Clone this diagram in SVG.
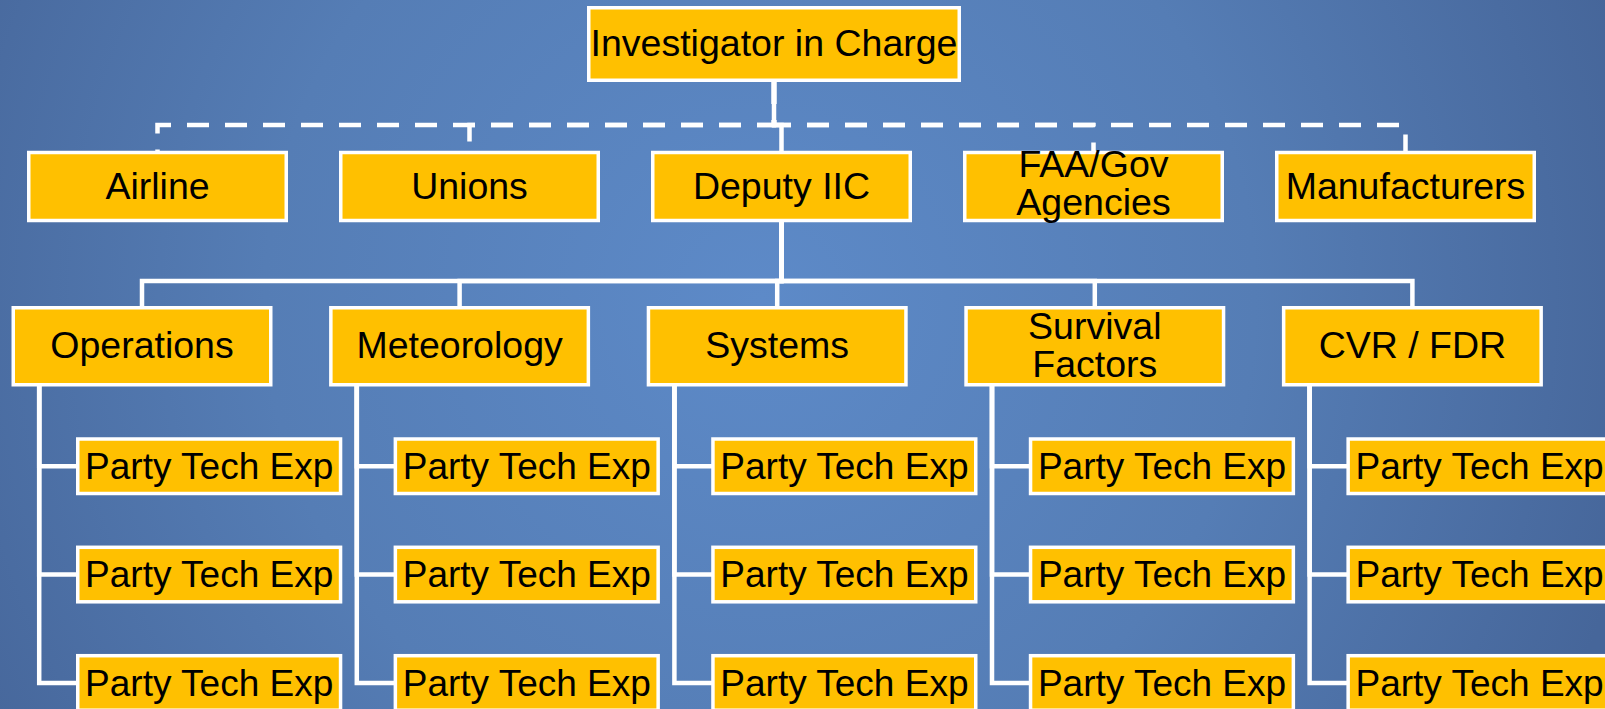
<svg xmlns="http://www.w3.org/2000/svg" width="1605" height="709" viewBox="0 0 1605 709">
  <defs>
    <radialGradient id="bg" cx="760" cy="300" r="900" gradientUnits="userSpaceOnUse">
      <stop offset="0" stop-color="#5D8AC8"/>
      <stop offset="0.55" stop-color="#557DB5"/>
      <stop offset="1" stop-color="#46669A"/>
    </radialGradient>
    <style>
      .box { fill: #FFC000; stroke: #FFFFFF; stroke-width: 3.5; }
      .lbl { font-family: "Liberation Sans", Arial, sans-serif; font-size: 37.5px; text-anchor: middle; fill: #000000; }
      .pte { font-family: "Liberation Sans", Arial, sans-serif; font-size: 37px; text-anchor: middle; fill: #000000; }
      .conn { fill: none; stroke: #FFFFFF; stroke-width: 4.5; stroke-linejoin: miter; }
      .dash { stroke-dasharray: 22 16; }
    </style>
  </defs>

  <rect x="0" y="0" width="1605" height="709" fill="url(#bg)"/>

  <!-- connectors -->
  <g id="connectors">
    <!-- outside parties (dashed elbows from the IIC) -->
    <path class="conn dash" d="M774 82 V125 H157.5 V151"/>
    <path class="conn dash" d="M774 82 V125 H469.5 V151"/>
    <path class="conn dash" d="M774 82 V125 H1093.5 V151"/>
    <path class="conn dash" d="M774 82 V125 H1405.5 V151"/>
    <!-- IIC to deputy -->
    <path class="conn" d="M774 82 V125 H781.5 V151"/>
    <!-- deputy to group chairs -->
    <path class="conn" d="M781.5 222 V281 H142 V307"/>
    <path class="conn" d="M781.5 222 V281 H459.6 V307"/>
    <path class="conn" d="M781.5 222 V281 H777.2 V307"/>
    <path class="conn" d="M781.5 222 V281 H1094.8 V307"/>
    <path class="conn" d="M781.5 222 V281 H1412.4 V307"/>
    <!-- group chairs to party technical experts -->
    <path class="conn" d="M39.2 386 V466.3 H77"/>
    <path class="conn" d="M39.2 386 V574.6 H77"/>
    <path class="conn" d="M39.2 386 V683 H77"/>
    <path class="conn" d="M356.8 386 V466.3 H395"/>
    <path class="conn" d="M356.8 386 V574.6 H395"/>
    <path class="conn" d="M356.8 386 V683 H395"/>
    <path class="conn" d="M674.4 386 V466.3 H712"/>
    <path class="conn" d="M674.4 386 V574.6 H712"/>
    <path class="conn" d="M674.4 386 V683 H712"/>
    <path class="conn" d="M992 386 V466.3 H1030"/>
    <path class="conn" d="M992 386 V574.6 H1030"/>
    <path class="conn" d="M992 386 V683 H1030"/>
    <path class="conn" d="M1309.6 386 V466.3 H1347"/>
    <path class="conn" d="M1309.6 386 V574.6 H1347"/>
    <path class="conn" d="M1309.6 386 V683 H1347"/>
  </g>

  <!-- top -->
  <g id="iic">
    <rect class="box" x="588.75" y="7.75" width="370.5" height="72.5"/>
    <text class="lbl" x="774" y="56">Investigator in Charge</text>
  </g>

  <!-- first level -->
  <g id="airline">
    <rect class="box" x="28.75" y="152.5" width="257.5" height="68"/>
    <text class="lbl" x="157.5" y="198.5">Airline</text>
  </g>
  <g id="unions">
    <rect class="box" x="340.75" y="152.5" width="257.5" height="68"/>
    <text class="lbl" x="469.5" y="198.5">Unions</text>
  </g>
  <g id="deputy">
    <rect class="box" x="652.75" y="152.5" width="257.5" height="68"/>
    <text class="lbl" x="781.5" y="198.5">Deputy IIC</text>
  </g>
  <g id="faa">
    <rect class="box" x="964.75" y="152.5" width="257.5" height="68"/>
    <text class="lbl" x="1093.5" y="177">FAA/Gov</text>
    <text class="lbl" x="1093.5" y="215">Agencies</text>
  </g>
  <g id="manufacturers">
    <rect class="box" x="1276.75" y="152.5" width="257.5" height="68"/>
    <text class="lbl" x="1405.5" y="198.5">Manufacturers</text>
  </g>

  <!-- group chairs -->
  <g id="operations">
    <rect class="box" x="13.25" y="307.75" width="257.5" height="77"/>
    <text class="lbl" x="142" y="357.5">Operations</text>
  </g>
  <g id="meteorology">
    <rect class="box" x="330.85" y="307.75" width="257.5" height="77"/>
    <text class="lbl" x="459.6" y="357.5">Meteorology</text>
  </g>
  <g id="systems">
    <rect class="box" x="648.45" y="307.75" width="257.5" height="77"/>
    <text class="lbl" x="777.2" y="357.5">Systems</text>
  </g>
  <g id="survival">
    <rect class="box" x="966.05" y="307.75" width="257.5" height="77"/>
    <text class="lbl" x="1094.8" y="339">Survival</text>
    <text class="lbl" x="1094.8" y="377">Factors</text>
  </g>
  <g id="cvrfdr">
    <rect class="box" x="1283.65" y="307.75" width="257.5" height="77"/>
    <text class="lbl" x="1412.4" y="357.5">CVR / FDR</text>
  </g>

  <!-- party technical experts -->
  <g id="ops-pte-1"><rect class="box" x="77.75" y="439" width="262.8" height="54.5"/><text class="pte" x="209.2" y="479">Party Tech Exp</text></g>
  <g id="ops-pte-2"><rect class="box" x="77.75" y="547.3" width="262.8" height="54.5"/><text class="pte" x="209.2" y="587.3">Party Tech Exp</text></g>
  <g id="ops-pte-3"><rect class="box" x="77.75" y="655.7" width="262.8" height="54.5"/><text class="pte" x="209.2" y="695.7">Party Tech Exp</text></g>

  <g id="met-pte-1"><rect class="box" x="395.35" y="439" width="262.8" height="54.5"/><text class="pte" x="526.8" y="479">Party Tech Exp</text></g>
  <g id="met-pte-2"><rect class="box" x="395.35" y="547.3" width="262.8" height="54.5"/><text class="pte" x="526.8" y="587.3">Party Tech Exp</text></g>
  <g id="met-pte-3"><rect class="box" x="395.35" y="655.7" width="262.8" height="54.5"/><text class="pte" x="526.8" y="695.7">Party Tech Exp</text></g>

  <g id="sys-pte-1"><rect class="box" x="712.95" y="439" width="262.8" height="54.5"/><text class="pte" x="844.4" y="479">Party Tech Exp</text></g>
  <g id="sys-pte-2"><rect class="box" x="712.95" y="547.3" width="262.8" height="54.5"/><text class="pte" x="844.4" y="587.3">Party Tech Exp</text></g>
  <g id="sys-pte-3"><rect class="box" x="712.95" y="655.7" width="262.8" height="54.5"/><text class="pte" x="844.4" y="695.7">Party Tech Exp</text></g>

  <g id="sur-pte-1"><rect class="box" x="1030.55" y="439" width="262.8" height="54.5"/><text class="pte" x="1162" y="479">Party Tech Exp</text></g>
  <g id="sur-pte-2"><rect class="box" x="1030.55" y="547.3" width="262.8" height="54.5"/><text class="pte" x="1162" y="587.3">Party Tech Exp</text></g>
  <g id="sur-pte-3"><rect class="box" x="1030.55" y="655.7" width="262.8" height="54.5"/><text class="pte" x="1162" y="695.7">Party Tech Exp</text></g>

  <g id="cvr-pte-1"><rect class="box" x="1348.15" y="439" width="262.8" height="54.5"/><text class="pte" x="1479.6" y="479">Party Tech Exp</text></g>
  <g id="cvr-pte-2"><rect class="box" x="1348.15" y="547.3" width="262.8" height="54.5"/><text class="pte" x="1479.6" y="587.3">Party Tech Exp</text></g>
  <g id="cvr-pte-3"><rect class="box" x="1348.15" y="655.7" width="262.8" height="54.5"/><text class="pte" x="1479.6" y="695.7">Party Tech Exp</text></g>
</svg>
